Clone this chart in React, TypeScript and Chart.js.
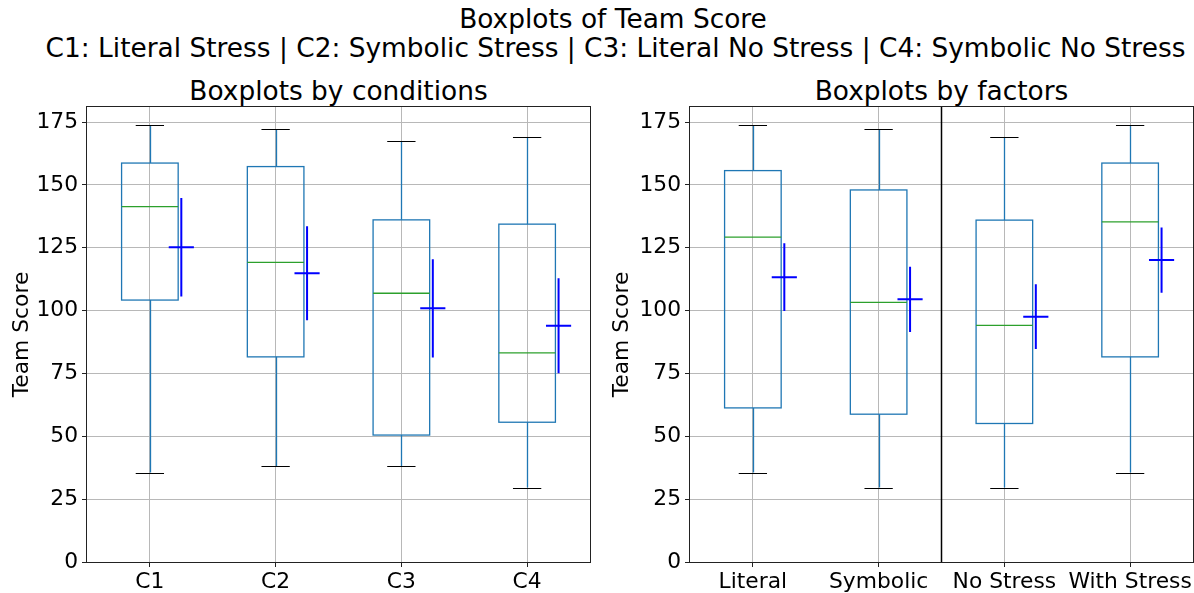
import React, { useEffect, useRef } from "react";
import { Chart, registerables } from "chart.js";

Chart.register(...registerables);

// ---------- data ----------
const conditions = ["C1", "C2", "C3", "C4"];
const condWhiskerLow = [35.6, 38.2, 38.1, 29.6];
const condQ1 = [104.2, 81.6, 50.5, 55.6];
const condMedian = [141.4, 119.2, 106.9, 83.2];
const condQ3 = [158.7, 157.3, 136.1, 134.4];
const condWhiskerHigh = [173.8, 172.2, 167.4, 169.0];
const condMean = [125.2, 114.9, 100.9, 94.0];
const condMeanErr = [19.6, 18.7, 19.5, 18.9];

const factors = ["Literal", "Symbolic", "No Stress", "With Stress"];
const factWhiskerLow = [35.6, 29.6, 29.6, 35.6];
const factQ1 = [61.3, 58.8, 55.1, 81.6];
const factMedian = [129.2, 103.3, 94.1, 135.3];
const factQ3 = [155.7, 148.0, 136.0, 158.7];
const factWhiskerHigh = [173.8, 172.2, 169.0, 173.8];
const factMean = [113.3, 104.5, 97.6, 120.1];
const factMeanErr = [13.5, 13.0, 12.9, 13.0];

const yTicks = [0, 25, 50, 75, 100, 125, 150, 175];
const yMax = 181;
const factorDivider = 2.5;

const suptitle1 = "Boxplots of Team Score";
const suptitle2 =
  "C1: Literal Stress | C2: Symbolic Stress | C3: Literal No Stress | C4: Symbolic No Stress";
const leftTitle = "Boxplots by conditions";
const rightTitle = "Boxplots by factors";
const yLabel = "Team Score";

const FONT = "'DejaVu Sans', 'Liberation Sans', sans-serif";
const TICK_SIZE = 21.8;
const TITLE_SIZE = 26.4;

type Stats = {
  labels: string[];
  lo: number[];
  q1: number[];
  med: number[];
  q3: number[];
  hi: number[];
  mean: number[];
  err: number[];
};

const crisp = (v: number) => Math.round(v) + 0.5;

function makeBoxPlugin(s: Stats, divider: number | null) {
  return {
    id: "boxes",
    afterDatasetsDraw(chart: any) {
      const { ctx, scales, chartArea } = chart;
      const x = scales.x;
      const y = scales.y;
      ctx.save();
      s.labels.forEach((_, i) => {
        const pos = i + 1;
        const px = (v: number) => x.getPixelForValue(v);
        const py = (v: number) => y.getPixelForValue(v);
        const xc = crisp(px(pos));
        // box
        ctx.strokeStyle = "#1f77b4";
        ctx.lineWidth = 1.3;
        const bl = px(pos - 0.225);
        const br = px(pos + 0.225);
        const bt = py(s.q3[i]);
        const bb = py(s.q1[i]);
        ctx.strokeRect(bl, bt, br - bl, bb - bt);
        // whiskers
        ctx.beginPath();
        ctx.moveTo(xc, bt);
        ctx.lineTo(xc, py(s.hi[i]));
        ctx.moveTo(xc, bb);
        ctx.lineTo(xc, py(s.lo[i]));
        ctx.stroke();
        // caps
        ctx.strokeStyle = "#000000";
        ctx.lineWidth = 1;
        ctx.beginPath();
        const cl = px(pos - 0.1125);
        const cr = px(pos + 0.1125);
        ctx.moveTo(cl, crisp(py(s.hi[i])));
        ctx.lineTo(cr, crisp(py(s.hi[i])));
        ctx.moveTo(cl, crisp(py(s.lo[i])));
        ctx.lineTo(cr, crisp(py(s.lo[i])));
        ctx.stroke();
        // median
        ctx.strokeStyle = "#2ca02c";
        ctx.lineWidth = 1.3;
        ctx.beginPath();
        ctx.moveTo(bl, py(s.med[i]));
        ctx.lineTo(br, py(s.med[i]));
        ctx.stroke();
        // mean cross
        ctx.strokeStyle = "#0000ff";
        ctx.lineWidth = 2;
        ctx.beginPath();
        const mx = px(pos + 0.25);
        ctx.moveTo(px(pos + 0.15), py(s.mean[i]));
        ctx.lineTo(px(pos + 0.35), py(s.mean[i]));
        ctx.moveTo(mx, py(s.mean[i] + s.err[i]));
        ctx.lineTo(mx, py(s.mean[i] - s.err[i]));
        ctx.stroke();
      });
      if (divider !== null) {
        ctx.strokeStyle = "#000000";
        ctx.lineWidth = 1.5;
        ctx.beginPath();
        const dx = x.getPixelForValue(divider);
        ctx.moveTo(dx, chartArea.top);
        ctx.lineTo(dx, chartArea.bottom);
        ctx.stroke();
      }
      // spines
      ctx.strokeStyle = "#222222";
      ctx.lineWidth = 1;
      ctx.strokeRect(
        crisp(chartArea.left) - 1,
        crisp(chartArea.top) - 1,
        Math.round(chartArea.right - chartArea.left) + 1,
        Math.round(chartArea.bottom - chartArea.top) + 1
      );
      ctx.restore();
    },
  };
}

function makeConfig(s: Stats, yWidth: number, rightPad: number, divider: number | null) {
  const positions = s.labels.map((_, i) => i + 1);
  return {
    type: "scatter",
    data: {
      datasets: [
        {
          data: s.mean.map((m, i) => ({ x: i + 1.25, y: m })),
          pointRadius: 0,
          showLine: false,
        },
      ],
    },
    options: {
      animation: false,
      responsive: false,
      events: [],
      layout: { padding: { left: 0, right: rightPad, top: 107, bottom: 0 } },
      plugins: {
        legend: { display: false },
        tooltip: { enabled: false },
        title: { display: false },
      },
      scales: {
        x: {
          type: "linear",
          min: 0.5,
          max: 4.5,
          afterBuildTicks: (sc: any) => {
            sc.ticks = positions.map((v) => ({ value: v }));
          },
          afterFit: (sc: any) => {
            sc.height = 31;
          },
          ticks: {
            callback: (_v: any, i: number) => s.labels[i],
            font: { size: TICK_SIZE, family: FONT },
            color: "#000000",
            padding: 2,
            maxRotation: 0,
            autoSkip: false,
          },
          grid: {
            color: "#b8b8b8",
            lineWidth: 1,
            tickColor: "#222222",
            tickLength: 5,
            drawTicks: true,
          },
          border: { display: false },
        },
        y: {
          type: "linear",
          min: 0,
          max: yMax,
          afterBuildTicks: (sc: any) => {
            sc.ticks = yTicks.map((v) => ({ value: v }));
          },
          afterFit: (sc: any) => {
            sc.width = yWidth;
          },
          ticks: {
            font: { size: TICK_SIZE, family: FONT },
            color: "#000000",
            padding: 4,
          },
          grid: {
            color: "#b8b8b8",
            lineWidth: 1,
            tickColor: "#222222",
            tickLength: 5,
            drawTicks: true,
          },
          border: { display: false },
          title: {
            display: true,
            text: yLabel,
            font: { size: TICK_SIZE, family: FONT },
            color: "#000000",
            padding: { top: 9, bottom: 0 },
          },
        },
      },
    },
    plugins: [makeBoxPlugin(s, divider)],
  };
}

const condStats: Stats = {
  labels: conditions,
  lo: condWhiskerLow,
  q1: condQ1,
  med: condMedian,
  q3: condQ3,
  hi: condWhiskerHigh,
  mean: condMean,
  err: condMeanErr,
};

const factStats: Stats = {
  labels: factors,
  lo: factWhiskerLow,
  q1: factQ1,
  med: factMedian,
  q3: factQ3,
  hi: factWhiskerHigh,
  mean: factMean,
  err: factMeanErr,
};

const titleStyle = (top: number, center: number): React.CSSProperties => ({
  position: "absolute",
  top,
  left: center,
  transform: "translateX(-50%)",
  whiteSpace: "nowrap",
  fontFamily: FONT,
  fontSize: TITLE_SIZE + "px",
  lineHeight: TITLE_SIZE + "px",
  color: "#000",
});

export default function App() {
  const leftRef = useRef<HTMLCanvasElement | null>(null);
  const rightRef = useRef<HTMLCanvasElement | null>(null);

  useEffect(() => {
    Chart.defaults.font.family = FONT;
    const c1 = new Chart(leftRef.current as any, makeConfig(condStats, 87, 10, null) as any);
    const c2 = new Chart(rightRef.current as any, makeConfig(factStats, 90, 1, factorDivider) as any);
    return () => {
      c1.destroy();
      c2.destroy();
    };
  }, []);

  const base = TITLE_SIZE * 0.846;

  return (
    <div
      style={{
        position: "absolute",
        left: 0,
        top: 0,
        width: 1194,
        height: 593,
        overflow: "hidden",
        background: "#fff",
      }}
    >
      <div style={titleStyle(28.3 - base, 613)}>{suptitle1}</div>
      <div style={titleStyle(57 - base, 615.5)}>{suptitle2}</div>
      <div style={titleStyle(100 - base, 338.5)}>{leftTitle}</div>
      <div style={titleStyle(100 - base, 941.5)}>{rightTitle}</div>
      <canvas
        ref={leftRef}
        width={600}
        height={593}
        style={{ position: "absolute", left: 0, top: 0 }}
      />
      <canvas
        ref={rightRef}
        width={594}
        height={593}
        style={{ position: "absolute", left: 600, top: 0 }}
      />
    </div>
  );
}
